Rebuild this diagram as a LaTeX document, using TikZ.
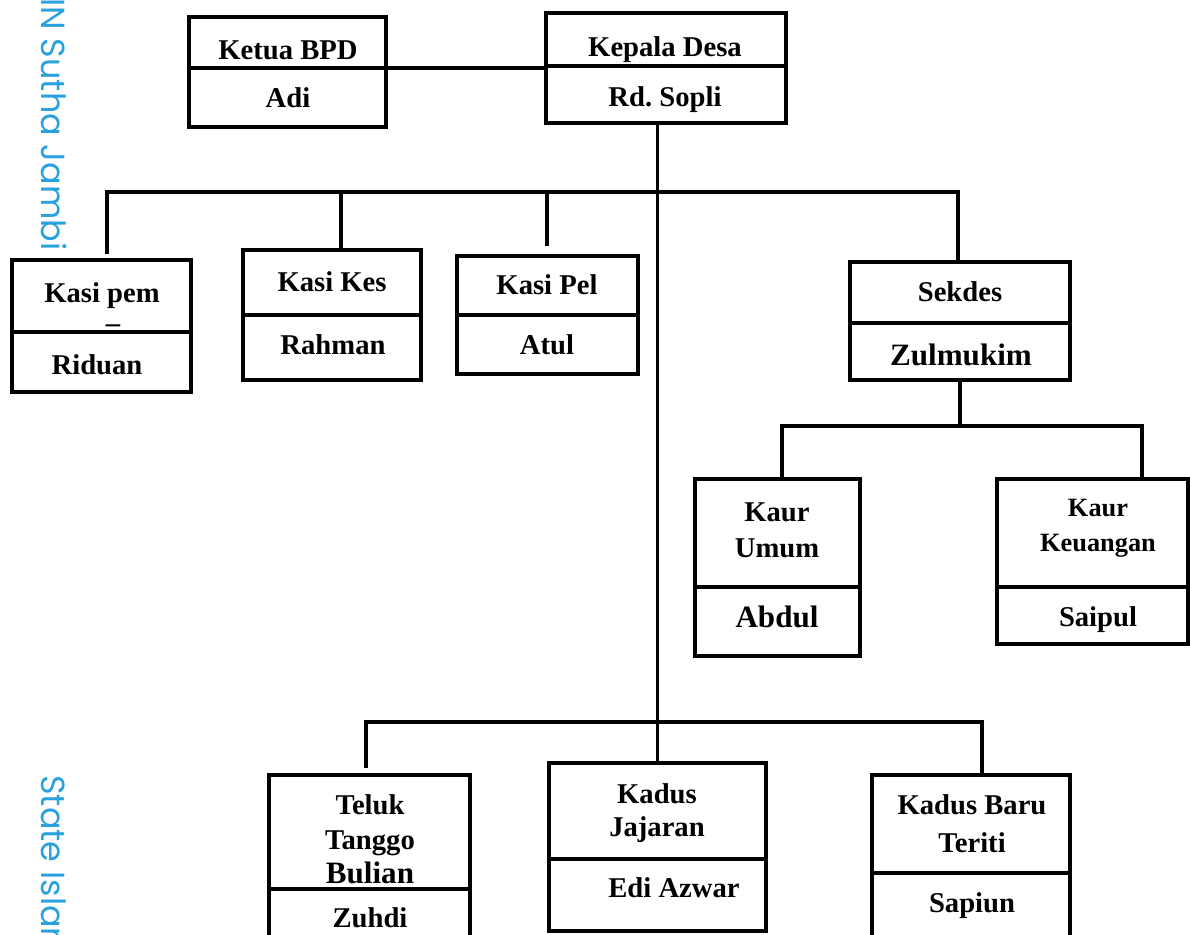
\documentclass[tikz,border=0pt]{standalone}
\usepackage{fontspec}
\setmainfont{Liberation Serif}
\newfontfamily\wmfont{Poppins}
\definecolor{wmblue}{RGB}{41,161,222}

\begin{document}
\begin{tikzpicture}[x=0.02cm,y=-0.02cm,
    box/.style={draw, line width=2.2pt, inner sep=0pt},
    wire/.style={line width=2pt},
    lbl/.style={inner sep=0pt, text height=10.8pt, text depth=0pt,
        font=\fontsize{16.3}{19.5}\selectfont\bfseries},
    lblbig/.style={lbl, text height=11.7pt,
        font=\fontsize{17.7}{21}\selectfont\bfseries},
    lblsmall/.style={lbl, text height=9.9pt,
        font=\fontsize{15}{18}\selectfont\bfseries},
    wm/.style={inner sep=0pt, text=wmblue,
        font=\wmfont\fontsize{19}{23}\selectfont}]
    \useasboundingbox (0,0) rectangle (1190,935);
    \clip (0,0) rectangle (1190,935);

    % watermark
    \node[wm, rotate=-90, anchor=base west] (wm1) at (41,-2) {IN Sutha Jambi};
    \node[wm, rotate=-90, anchor=base west] (wm2) at (41,775) {State Islam};

    % boxes
    \node[box, minimum width=3.94cm, minimum height=2.2cm] (bpd) at (287.5,72) {};
    \node[box, minimum width=4.8cm, minimum height=2.2cm] (kdesa) at (666,68) {};
    \node[box, minimum width=3.58cm, minimum height=2.64cm] (kpem) at (101.5,326) {};
    \node[box, minimum width=3.56cm, minimum height=2.6cm] (kkes) at (332,315) {};
    \node[box, minimum width=3.62cm, minimum height=2.36cm] (kpel) at (547.5,315) {};
    \node[box, minimum width=4.4cm, minimum height=2.36cm] (sekdes) at (960,321) {};
    \node[box, minimum width=3.3cm, minimum height=3.54cm] (kumum) at (777.5,567.5) {};
    \node[box, minimum width=3.82cm, minimum height=3.3cm] (kkeu) at (1092.5,561.5) {};
    \node[box, minimum width=4.02cm, minimum height=3.6cm] (tlk) at (369.5,865) {};
    \node[box, minimum width=4.34cm, minimum height=3.36cm] (kjaj) at (657.5,847) {};
    \node[box, minimum width=3.96cm, minimum height=3.6cm] (kbaru) at (971,865) {};

    % dividers
    \draw[box] (bpd.west |- 0,68) -- (bpd.east |- 0,68);
    \draw[box] (kdesa.west |- 0,66) -- (kdesa.east |- 0,66);
    \draw[box] (kpem.west |- 0,332) -- (kpem.east |- 0,332);
    \draw[box] (kkes.west |- 0,315) -- (kkes.east |- 0,315);
    \draw[box] (kpel.west |- 0,315) -- (kpel.east |- 0,315);
    \draw[box] (sekdes.west |- 0,323) -- (sekdes.east |- 0,323);
    \draw[box] (kumum.west |- 0,587) -- (kumum.east |- 0,587);
    \draw[box] (kkeu.west |- 0,587) -- (kkeu.east |- 0,587);
    \draw[box] (tlk.west |- 0,889) -- (tlk.east |- 0,889);
    \draw[box] (kjaj.west |- 0,859) -- (kjaj.east |- 0,859);
    \draw[box] (kbaru.west |- 0,873) -- (kbaru.east |- 0,873);

    % texts
    \node[lbl] (bpd-j) at (288,50) {Ketua BPD};
    \node[lbl] (bpd-n) at (288,98) {Adi};
    \node[lbl] (kdesa-j) at (665,47) {Kepala Desa};
    \node[lbl] (kdesa-n) at (665,97) {Rd.\ Sopli};
    \node[lbl] (kpem-j) at (102,293) {Kasi pem};
    \node[lbl] (kpem-d) at (113,323) {--};
    \node[lbl] (kpem-n) at (97,365) {Riduan};
    \node[lbl] (kkes-j) at (332,282) {Kasi Kes};
    \node[lbl] (kkes-n) at (333,345) {Rahman};
    \node[lbl] (kpel-j) at (547,285) {Kasi Pel};
    \node[lbl] (kpel-n) at (547,345) {Atul};
    \node[lbl] (sekdes-j) at (960,292) {Sekdes};
    \node[lblbig] (sekdes-n) at (961,355) {Zulmukim};
    \node[lbl] (kumum-j1) at (777,512) {Kaur};
    \node[lbl] (kumum-j2) at (777,548) {Umum};
    \node[lblbig] (kumum-n) at (777,617) {Abdul};
    \node[lblsmall] (kkeu-j1) at (1098,508) {Kaur};
    \node[lblsmall] (kkeu-j2) at (1098,543) {Keuangan};
    \node[lbl] (kkeu-n) at (1098,617) {Saipul};
    \node[lbl] (tlk-j1) at (370,805) {Teluk};
    \node[lbl] (tlk-j2) at (370,840) {Tanggo};
    \node[lblbig] (tlk-j3) at (370,873) {Bulian};
    \node[lbl] (tlk-n) at (370,918) {Zuhdi};
    \node[lbl] (kjaj-j1) at (657,794) {Kadus};
    \node[lbl] (kjaj-j2) at (657,827) {Jajaran};
    \node[lbl] (kjaj-n) at (674,888) {Edi Azwar};
    \node[lbl] (kbaru-j1) at (972,805) {Kadus Baru};
    \node[lbl] (kbaru-j2) at (972,843) {Teriti};
    \node[lbl] (kbaru-n) at (972,903) {Sapiun};

    % bus points
    \coordinate (a1) at (107,192);
    \coordinate (a2) at (341,192);
    \coordinate (a3) at (547,192);
    \coordinate (a4) at (958,192);
    \coordinate (pemend) at (107,254);
    \coordinate (pelend) at (547,246);
    \coordinate (u1) at (782,426);
    \coordinate (u2) at (1142,426);
    \coordinate (c1) at (366,722);
    \coordinate (c2) at (982,722);
    \coordinate (tlkend) at (366,768);

    % connectors
    \draw[wire] (bpd.east |- kdesa.west) -- (kdesa.west);
    \draw[wire] (kdesa.south -| kjaj.north) -- (kjaj.north);
    \draw[wire] (pemend) -- (a1) -- (a4) -- (a4 |- sekdes.north);
    \draw[wire] (a2) -- (a2 |- kkes.north);
    \draw[wire] (a3) -- (pelend);
    \draw[wire] (sekdes.south) -- (sekdes.south |- u1);
    \draw[wire] (u1 |- kumum.north) -- (u1) -- (u2) -- (u2 |- kkeu.north);
    \draw[wire] (tlkend) -- (c1) -- (c2) -- (c2 |- kbaru.north);

\end{tikzpicture}
\end{document}
